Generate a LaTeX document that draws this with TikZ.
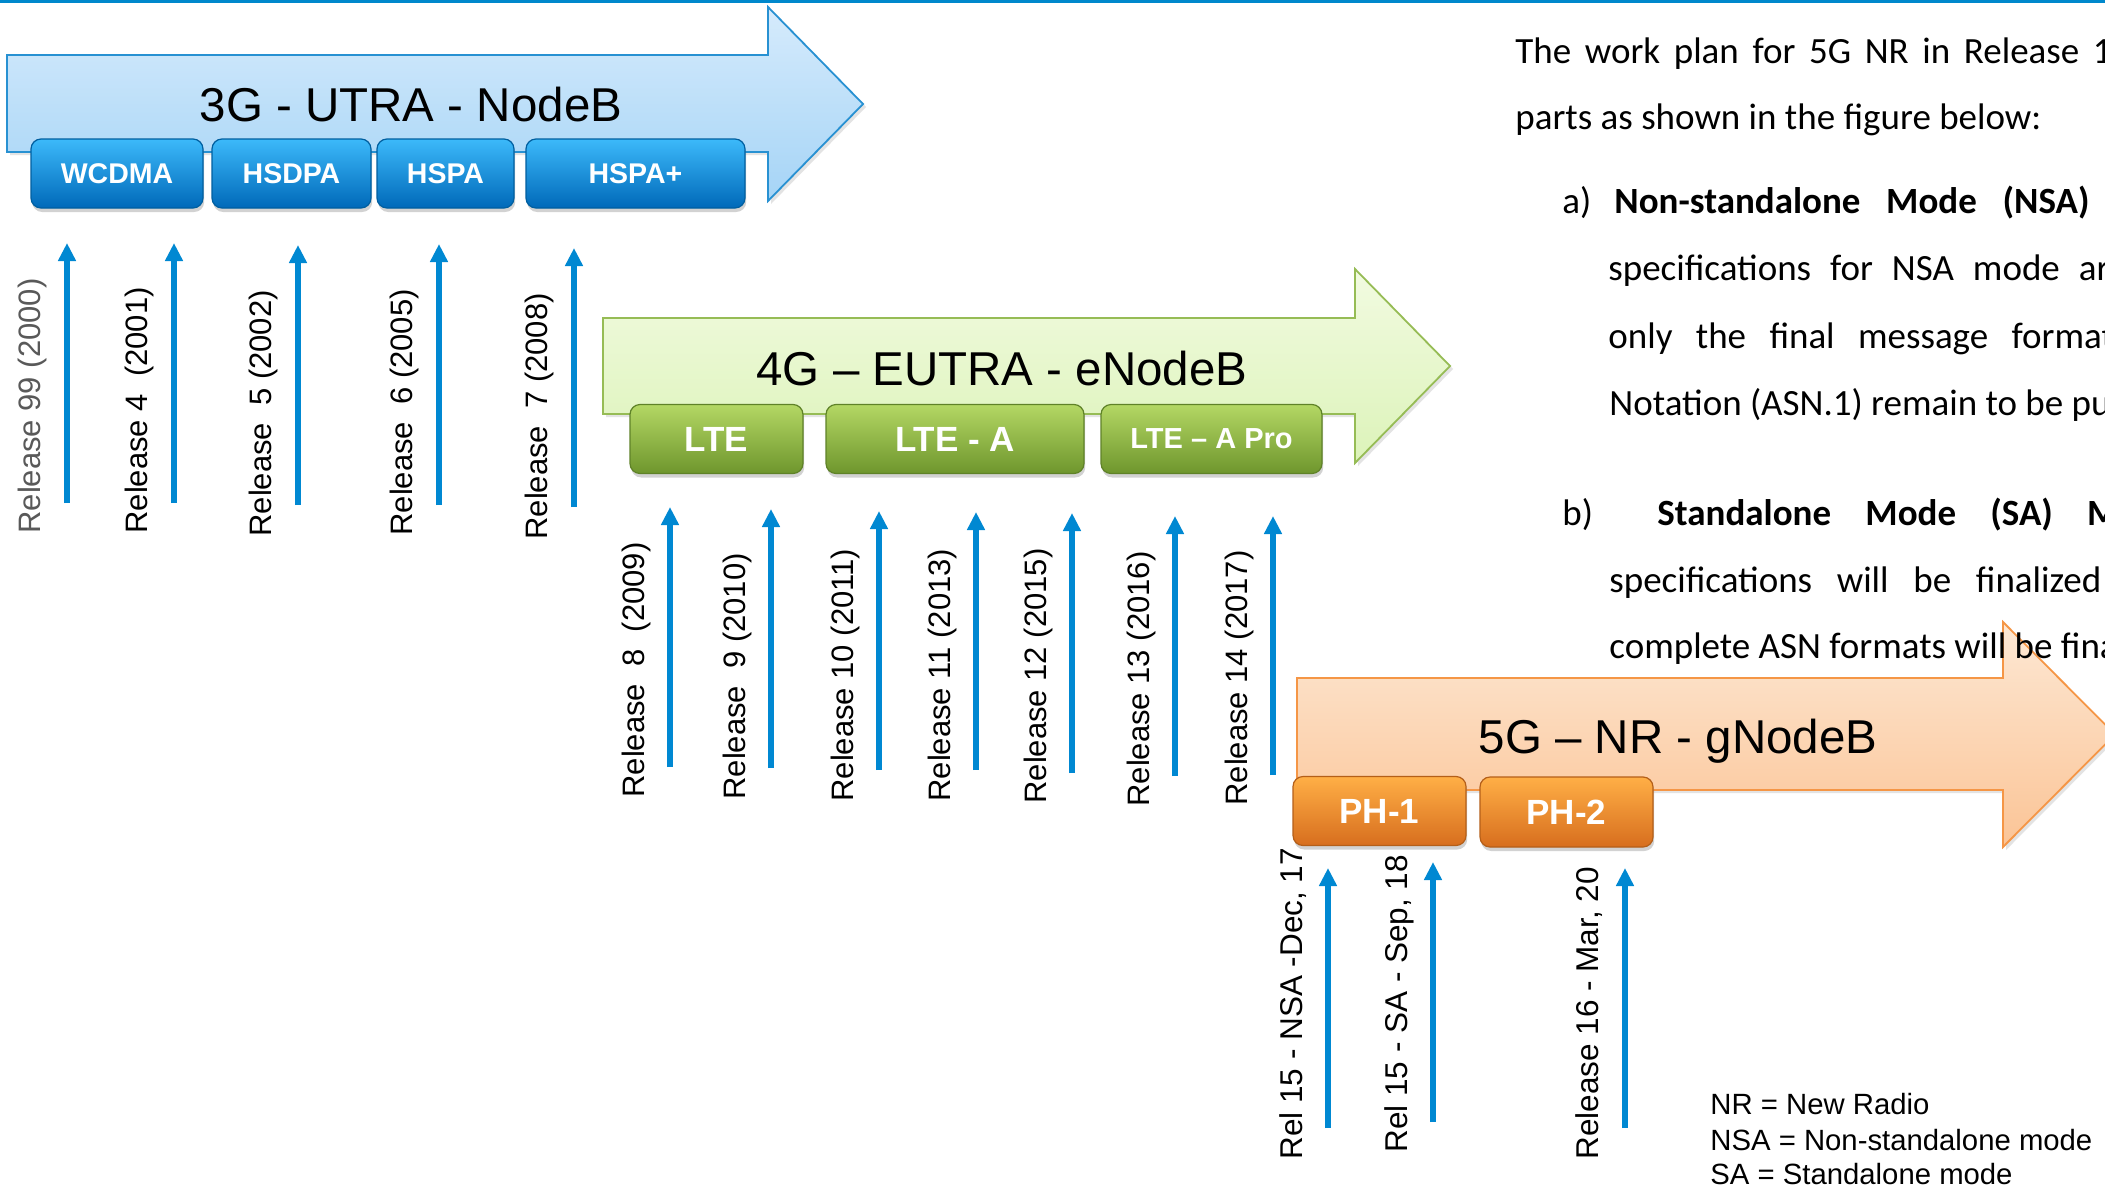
\documentclass[tikz,border=0pt]{standalone}
\usepackage{fontspec}
\setmainfont{Liberation Sans}
\newfontfamily\calibri{Carlito}
\usetikzlibrary{arrows.meta,shadows}

\definecolor{topline}{RGB}{0,136,204}
\definecolor{relblue}{RGB}{0,136,210}
\definecolor{arrA}{RGB}{214,235,252}
\definecolor{arrAb}{RGB}{165,212,246}
\definecolor{arrAe}{RGB}{40,145,210}
\definecolor{arrB}{RGB}{242,251,225}
\definecolor{arrBb}{RGB}{220,243,185}
\definecolor{arrBe}{RGB}{150,188,85}
\definecolor{arrC}{RGB}{253,232,212}
\definecolor{arrCb}{RGB}{251,196,150}
\definecolor{arrCe}{RGB}{245,150,70}
\definecolor{bluetop}{RGB}{60,185,250}
\definecolor{bluemid}{RGB}{10,145,228}
\definecolor{bluebot}{RGB}{0,105,185}
\definecolor{blueedge}{RGB}{0,95,160}
\definecolor{greentop}{RGB}{180,215,100}
\definecolor{greenmid}{RGB}{145,190,70}
\definecolor{greenbot}{RGB}{110,150,45}
\definecolor{greenedge}{RGB}{95,130,40}
\definecolor{orangetop}{RGB}{255,175,70}
\definecolor{orangemid}{RGB}{248,145,40}
\definecolor{orangebot}{RGB}{215,110,30}
\definecolor{orangeedge}{RGB}{180,95,25}
\definecolor{greylab}{RGB}{89,89,89}

\tikzset{
  ttl/.style={font=\fontsize{23.75}{28}\selectfont, anchor=base, inner sep=0pt},
  bigarr/.style={line width=0.9pt, line join=miter,
    drop shadow={opacity=0.22, shadow xshift=1.5pt, shadow yshift=-1.5pt}},
  sub/.style={rounded corners=5pt, minimum height=34.5pt, inner sep=0pt, text=white,
    line width=0.6pt, drop shadow={opacity=0.35, shadow xshift=0.6pt, shadow yshift=-2pt}},
  subblue/.style={sub, draw=blueedge, top color=bluetop, middle color=bluemid, bottom color=bluebot,
    font=\bfseries\fontsize{14.25}{16}\selectfont},
  subgreen/.style={sub, draw=greenedge, top color=greentop, middle color=greenmid, bottom color=greenbot,
    font=\bfseries\fontsize{17.5}{20}\selectfont},
  suborange/.style={sub, draw=orangeedge, top color=orangetop, middle color=orangemid, bottom color=orangebot,
    font=\bfseries\fontsize{17.5}{20}\selectfont},
  relarr/.style={draw=relblue, line width=2.75pt, -{Triangle[width=8.5pt,length=9pt]}},
  rlab/.style={rotate=90, anchor=base west, inner sep=0pt, font=\fontsize{15.5}{18}\selectfont},
  rlabb/.style={rotate=90, anchor=base west, inner sep=0pt, font=\fontsize{15.75}{18}\selectfont},
  bodytxt/.style={anchor=base west, inner sep=0pt, font=\calibri\fontsize{18.5}{22}\selectfont},
  legend/.style={anchor=base west, inner sep=0pt, font=\fontsize{14.65}{17}\selectfont},
}

\begin{document}
\begin{tikzpicture}[x=0.5pt,y=-0.5pt]
\clip (0,0) rectangle (2105,1189);
\fill[white] (0,0) rectangle (2105,1189);
\fill[topline] (0,0) rectangle (2105,3);

% ---------- 3G ----------
\path[bigarr, draw=arrAe, top color=arrA, bottom color=arrAb]
  (7,55) -- (768,55) -- (768,7) -- (863,104) -- (768,201) -- (768,152) -- (7,152) -- cycle;
\node[ttl] (t3g) at (411,121) {3G - UTRA - NodeB};
\node[subblue, minimum width=86pt]   (wcdma) at (117,173.5)   {WCDMA};
\node[subblue, minimum width=79.5pt] (hsdpa) at (291.5,173.5) {HSDPA};
\node[subblue, minimum width=68.5pt] (hspa)  at (445.5,173.5) {HSPA};
\node[subblue, minimum width=109.5pt](hspap) at (635.5,173.5) {HSPA+};

% ---------- 4G ----------
\path[bigarr, draw=arrBe, top color=arrB, bottom color=arrBb]
  (603,318) -- (1355,318) -- (1355,269) -- (1450,366) -- (1355,463) -- (1355,414) -- (603,414) -- cycle;
\node[ttl] (t4g) at (1002,385) {4G – EUTRA - eNodeB};
\node[subgreen, minimum width=86.5pt] (lte)  at (716.5,439) {LTE};
\node[subgreen, minimum width=129pt]  (ltea) at (955,439)   {LTE - A};
\node[subgreen, minimum width=110.5pt, font=\bfseries\fontsize{14.5}{16}\selectfont] (ltep) at (1211.5,439) {LTE – A Pro};

% ---------- 5G ----------
\path[bigarr, draw=arrCe, top color=arrC, bottom color=arrCb]
  (1297,678) -- (2003,678) -- (2003,622) -- (2115,734.5) -- (2003,847) -- (2003,790) -- (1297,790) -- cycle;
\node[ttl] (t5g) at (1678,753) {5G – NR - gNodeB};
\node[suborange, minimum width=86.5pt, minimum height=34.5pt] (ph1) at (1379.5,811) {PH-1};
\node[suborange, minimum width=86.5pt, minimum height=35pt]   (ph2) at (1566.5,812) {PH-2};

% ---------- release arrows, row 1 ----------
\foreach \n/\x/\b/\t in {a/67/503/243, b/174/503/243, c/298/505/245, d/439/505/244, e/574/507/248}{
  \coordinate (s\n) at (\x,\b);
  \coordinate (e\n) at (\x,\t);
  \draw[relarr] (s\n) -- (e\n);
}
\node[rlab, text=greylab] (la) at (40,534)  {Release 99 (2000)};
\node[rlab] (lb) at (147,534) {Release 4\ \ (2001)};
\node[rlab] (lc) at (271,537) {Release\ \ 5 (2002)};
\node[rlab] (ld) at (412,536) {Release\ \ 6 (2005)};
\node[rlab] (le) at (547,540) {Release\ \ 7 (2008)};

% ---------- release arrows, row 2 ----------
\foreach \n/\x/\b/\t in {f/670/767/507, g/771/768/509, h/879/770/511, i/976/770/512, j/1072/773/513, k/1175/776/516, l/1273/775/516}{
  \coordinate (s\n) at (\x,\b);
  \coordinate (e\n) at (\x,\t);
  \draw[relarr] (s\n) -- (e\n);
}
\node[rlab] (lf) at (644,798)  {Release\ \ 8\ \ (2009)};
\node[rlab] (lg) at (745,800)  {Release\ \ 9 (2010)};
\node[rlab] (lh) at (853,802)  {Release 10 (2011)};
\node[rlab] (li) at (950,802)  {Release 11 (2013)};
\node[rlab] (lj) at (1046,804) {Release 12 (2015)};
\node[rlab] (lk) at (1149,807) {Release 13 (2016)};
\node[rlab] (ll) at (1247,806) {Release 14 (2017)};

% ---------- release arrows, 5G ----------
\foreach \n/\x/\b/\t in {m/1328/1128/868, o/1433/1122/862, p/1625/1128/868}{
  \coordinate (s\n) at (\x,\b);
  \coordinate (e\n) at (\x,\t);
  \draw[relarr] (s\n) -- (e\n);
}
\node[rlabb] (lm) at (1302,1160) {Rel 15 - NSA -Dec, 17};
\node[rlabb] (lo) at (1407,1153) {Rel 15 - SA - Sep, 18};
\node[rlabb] (lp) at (1598,1160) {Release 16 - Mar, 20};

% ---------- right-hand text ----------
\node[bodytxt] (p1) at (1515,63)  {\makebox[307.5pt][s]{The work plan for 5G NR in Release 15}};
\node[bodytxt] (p2) at (1515,129) {parts as shown in the figure below:};
\node[bodytxt] (pa) at (1562,213) {a)};
\node[bodytxt] (p3) at (1614,213) {\makebox[237.5pt][s]{\bfseries Non-standalone Mode (NSA)}};
\node[bodytxt] (p4) at (1608,280) {\makebox[259.5pt][s]{specifications for NSA mode are}};
\node[bodytxt] (p5) at (1608,348) {\makebox[260pt][s]{only the final message formats}};
\node[bodytxt] (p6) at (1609,415) {Notation (ASN.1) remain to be published};
\node[bodytxt] (pb) at (1562,525) {b)};
\node[bodytxt] (p7) at (1657,525) {\makebox[260.2pt][s]{\bfseries Standalone Mode (SA) Mode}};
\node[bodytxt] (p8) at (1609,592) {\makebox[246pt][s]{specifications will be finalized}};
\node[bodytxt] (p9) at (1609,658) {complete ASN formats will be finalized};

% ---------- legend ----------
\node[legend] (g1) at (1710,1114) {NR = New Radio};
\node[legend] (g2) at (1710,1150) {NSA = Non-standalone mode};
\node[legend] (g3) at (1710,1184) {SA = Standalone mode};
\end{tikzpicture}
\end{document}
